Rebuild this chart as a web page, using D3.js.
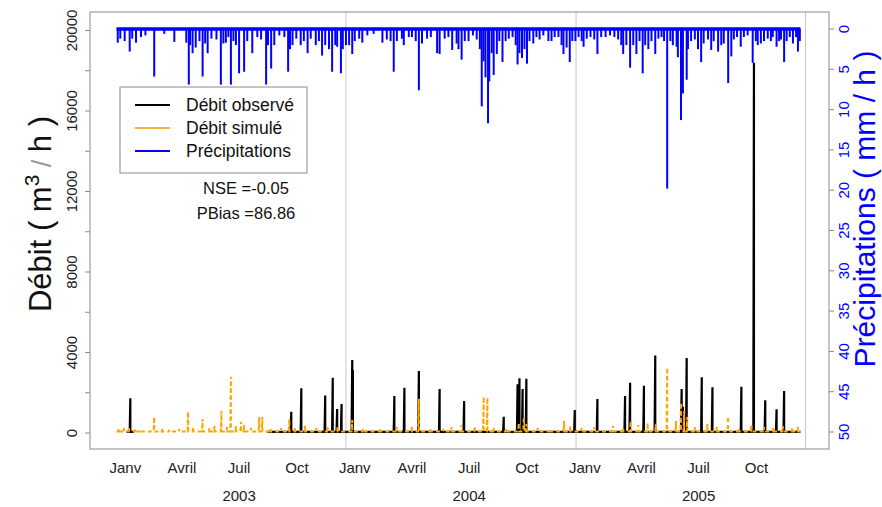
<!DOCTYPE html>
<html>
<head>
<meta charset="utf-8">
<script src="https://cdn.jsdelivr.net/npm/d3@7"></script>
<style>
  body { margin: 0; background: #fff; }
  svg text { font-family: "Liberation Sans", Arial, Helvetica, sans-serif; }
</style>
</head>
<body>
<svg id="chart" width="882" height="507"></svg>
<script>
// days counted from 1 Jan 2003
const startDate = new Date(2003, 0, 1);
const endDate = new Date(2006, 0, 1);

// precipitation events [day, mm/h]
const precip = [
  [2,1.7],[6,1.2],[13,1.5],[21,2.8],[25,1.2],[31,1.7],[39,1.0],[46,0.8],[60,5.9],[76,0.6],
  [92,1.6],[111,1.7],[115,6.9],[117,2.0],[121,3.0],[126,2.3],[132,1.5],[137,5.9],[141,1.8],[145,3.0],
  [151,1.2],[159,1.3],[166,6.9],[170,1.8],[174,1.7],[178,1.0],[182,6.9],[186,1.5],[190,2.0],[195,5.5],
  [203,5.3],[208,1.5],[216,3.0],[224,1.0],[230,1.3],[238,6.9],[241,2.0],[246,4.9],[251,2.0],[259,0.8],
  [267,1.0],[273,5.3],[276,2.5],[280,2.0],[286,1.2],[293,2.0],[298,1.5],[304,3.0],[309,1.2],[317,2.0],
  [322,1.5],[327,3.3],[332,2.0],[338,2.5],[343,5.3],[348,2.0],[351,2.2],[357,5.5],[360,2.5],
  [365,2.0],[370,2.0],[375,3.1],[379,1.5],[386,1.2],[391,1.7],[399,0.8],[409,0.6],[423,1.7],[430,1.3],
  [436,1.5],[441,5.3],[446,1.5],[454,1.2],[457,2.0],[465,1.0],[470,1.0],[476,1.5],[481,7.6],[486,1.8],
  [494,1.2],[500,1.0],[510,3.0],[514,3.1],[522,1.2],[528,1.0],[534,2.6],[541,1.8],[544,2.5],[549,3.8],
  [554,1.5],[560,1.5],[567,0.8],[573,1.3],[578,2.5],[581,9.6],[584,4.0],[587,6.0],[591,11.7],[593,6.5],
  [597,3.0],[600,5.7],[605,3.1],[609,1.5],[614,4.1],[619,1.5],[624,1.2],[630,1.0],[635,2.0],[638,4.4],
  [641,3.0],[645,3.6],[649,2.5],[653,4.3],[657,1.5],[663,1.8],[668,1.0],[673,1.3],[679,0.8],[687,1.5],
  [692,1.5],[697,1.0],[703,1.0],[708,2.0],[711,3.1],[716,2.3],[721,4.1],[725,1.5],
  [730,1.5],[735,1.0],[740,1.5],[743,2.2],[748,1.2],[754,1.0],[760,1.3],[765,3.1],[771,1.0],[778,1.0],
  [785,0.8],[792,1.0],[798,1.3],[803,2.0],[806,3.1],[811,2.0],[817,4.8],[822,2.0],[827,3.1],[832,1.5],
  [837,5.5],[841,2.0],[846,2.5],[851,1.5],[857,3.1],[862,1.2],[867,1.0],[871,1.5],[876,19.8],[881,1.5],
  [885,2.0],[891,2.2],[893,3.5],[898,11.3],[901,8.0],[907,6.3],[909,2.5],[914,1.5],[920,1.3],[925,2.5],
  [930,4.1],[934,1.8],[941,1.3],[946,2.6],[950,1.5],[957,2.8],[962,2.0],[966,1.8],[973,6.7],[978,3.4],
  [982,1.3],[987,1.0],[993,2.2],[998,1.0],[1004,0.8],[1012,4.2],[1017,1.5],[1020,2.0],[1025,1.8],[1030,1.5],
  [1036,1.2],[1041,1.5],[1044,1.0],[1050,2.2],[1054,1.5],[1057,1.3],[1062,4.1],[1066,1.5],[1071,1.0],
  [1076,1.8],[1081,1.0],[1084,2.8],[1087,1.5]
];

// observed discharge peaks [day, m3/h]
const observed = [
  [22,1725],[278,1060],[294,2220],[332,1860],[344,2750],[351,1190],[358,1440],[375,3630],[376,3130],
  [442,1840],[458,2250],[481,3080],[514,2190],[553,1590],[616,810],[638,2420],[641,2720],[646,2190],
  [652,2700],[729,1140],[765,1690],[809,1840],[817,2500],[839,2350],[857,3850],[899,2190],[901,1300],
  [907,3730],[931,2770],[948,2270],[994,2300],[1014,18400],[1032,1625],[1050,1180],[1062,2090]
];
// periods with observed record [first day, last day]
const observedPeriods = [[16, 28], [240, 1088]];
const observedBase = 60;

// simulated discharge peaks [day, m3/h]
const simulated = [
  [4,200],[12,250],[20,300],[30,180],[40,150],[60,800],[72,120],[84,150],[100,200],[114,1060],
  [122,300],[137,700],[148,250],[156,350],[167,1110],[176,300],[182,2800],[190,350],[198,560],[203,400],
  [214,250],[227,800],[232,800],[245,200],[262,250],[275,700],[284,300],[300,350],[318,250],[336,300],
  [352,350],[375,650],[392,200],[420,250],[446,300],[470,350],[481,1700],[500,250],[520,200],[533,300],
  [549,400],[570,350],[584,1800],[590,1760],[600,250],[620,200],[640,500],[648,800],[652,450],[670,250],
  [690,200],[712,600],[722,350],[740,250],[760,300],[790,350],[806,250],[818,600],[830,400],[845,500],
  [858,450],[876,3250],[890,600],[898,1500],[903,1100],[908,800],[920,300],[940,450],[955,300],[973,810],
  [990,250],[1010,400],[1030,300],[1045,250],[1060,350],[1075,250],[1084,300]
];
const simulatedBase = 80;

const monthLabels = ["Janv", "Avril", "Juil", "Oct"];
const years = [2003, 2004, 2005];
const leftTicks = d3.range(0, 20001, 2000);
const leftLabels = d3.range(0, 20001, 4000);
const rightTicks = d3.range(0, 51, 5);

const svg = d3.select("#chart");
const box = { left: 90, right: 829, top: 12, bottom: 449 };

const dayDate = d => d3.timeDay.offset(startDate, d);
const x = d3.scaleTime().domain([startDate, endDate]).range([116.5, 805.5]);
const y = d3.scaleLinear().domain([0, 20000]).range([433, 30.5]);
const yp = d3.scaleLinear().domain([0, 50]).range([29, 432]);

// year separators
svg.append("g").selectAll("line")
  .data([2004, 2005, 2006])
  .enter().append("line")
    .attr("x1", d => x(new Date(d, 0, 1))).attr("x2", d => x(new Date(d, 0, 1)))
    .attr("y1", box.top).attr("y2", box.bottom)
    .attr("stroke", "#c8c8c8").attr("stroke-width", 1);

// spikes built from peaks over a small baseline
function spikeSeries(peaks, base, from, to) {
  const pts = [[from, base]];
  peaks.filter(p => p[0] >= from && p[0] <= to).forEach(p => {
    pts.push([p[0] - 0.6, base], [p[0], p[1]], [p[0] + 0.6, base]);
  });
  pts.push([to, base]);
  return pts;
}
const line = d3.line().x(d => x(dayDate(d[0]))).y(d => y(d[1]));

observedPeriods.forEach(per => {
  svg.append("path")
    .attr("d", line(spikeSeries(observed, observedBase, per[0], per[1])))
    .attr("fill", "none").attr("stroke", "#000").attr("stroke-width", 2.2);
});

svg.append("path")
  .attr("d", line(spikeSeries(simulated, simulatedBase, 0, 1088)))
  .attr("fill", "none").attr("stroke", "orange").attr("stroke-width", 2)
  .attr("stroke-dasharray", "4,3");

// precipitation bars from top
svg.append("g").selectAll("line")
  .data(precip)
  .enter().append("line")
    .attr("x1", d => x(dayDate(d[0]))).attr("x2", d => x(dayDate(d[0])))
    .attr("y1", yp(0)).attr("y2", d => yp(d[1]))
    .attr("stroke", "#0000ff").attr("stroke-width", 2);
svg.append("line")
  .attr("x1", x(dayDate(0))).attr("x2", x(dayDate(1088)))
  .attr("y1", yp(0)).attr("y2", yp(0))
  .attr("stroke", "#0000ff").attr("stroke-width", 3.5);

// frame
svg.append("rect")
  .attr("x", box.left).attr("y", box.top)
  .attr("width", box.right - box.left).attr("height", box.bottom - box.top)
  .attr("fill", "none").attr("stroke", "#8a8a8a").attr("stroke-width", 1);

// left axis
const gl = svg.append("g");
gl.selectAll("line").data(leftTicks).enter().append("line")
  .attr("x1", box.left - 5).attr("x2", box.left)
  .attr("y1", d => y(d)).attr("y2", d => y(d))
  .attr("stroke", "#8a8a8a");
gl.selectAll("text").data(leftLabels).enter().append("text")
  .attr("transform", d => `translate(77,${y(d)}) rotate(-90)`)
  .attr("text-anchor", "middle")
  .attr("font-size", 15).attr("fill", "#222")
  .text(d => d);

const yt = svg.append("text")
  .attr("transform", "translate(51,214) rotate(-90)")
  .attr("text-anchor", "middle").attr("font-size", 31).attr("fill", "#111");
yt.append("tspan").text("Débit ( m");
yt.append("tspan").attr("font-size", 21).attr("dy", -12).text("3");
yt.append("tspan").attr("dy", 12).attr("fill", "#999").attr("font-size", 27).text(" / ");
yt.append("tspan").text("h )");

// right axis (precipitation, reversed)
const gr = svg.append("g");
gr.selectAll("line").data(rightTicks).enter().append("line")
  .attr("x1", box.right).attr("x2", box.right + 5)
  .attr("y1", d => yp(d)).attr("y2", d => yp(d))
  .attr("stroke", "#8a8a8a");
gr.selectAll("text").data(rightTicks).enter().append("text")
  .attr("transform", d => `translate(849,${yp(d)}) rotate(-90)`)
  .attr("text-anchor", "middle")
  .attr("font-size", 15).attr("fill", "#0000ff")
  .text(d => d);

svg.append("text")
  .attr("transform", "translate(875,209) rotate(-90)")
  .attr("text-anchor", "middle").attr("font-size", 30).attr("fill", "#0000ff")
  .text("Précipitations ( mm / h )");

// x labels
const monthTicks = [];
years.forEach(yr => [0, 3, 6, 9].forEach((m, i) =>
  monthTicks.push({ date: new Date(yr, m, 15), label: monthLabels[i] })));
svg.append("g").selectAll("text").data(monthTicks).enter().append("text")
  .attr("x", d => x(d.date)).attr("y", 473)
  .attr("text-anchor", "middle").attr("font-size", 15).attr("fill", "#222")
  .text(d => d.label);
svg.append("g").selectAll("text").data(years).enter().append("text")
  .attr("x", d => x(new Date(d, 6, 15))).attr("y", 501)
  .attr("text-anchor", "middle").attr("font-size", 15).attr("fill", "#222")
  .text(d => d);

// legend
const legendItems = [
  { label: "Débit observé", color: "#000" },
  { label: "Débit simulé", color: "#f5b041" },
  { label: "Précipitations", color: "#0000ff" }
];
svg.append("rect")
  .attr("x", 120).attr("y", 87).attr("width", 187).attr("height", 86)
  .attr("fill", "#fff").attr("stroke", "#8a8a8a");
const lg = svg.append("g").selectAll("g").data(legendItems).enter().append("g")
  .attr("transform", (d, i) => `translate(0,${105 + i * 23})`);
lg.append("line").attr("x1", 135).attr("x2", 170)
  .attr("stroke", d => d.color).attr("stroke-width", 2);
lg.append("text").attr("x", 186).attr("y", 6)
  .attr("font-size", 17.5).attr("fill", "#111").text(d => d.label);

svg.append("text").attr("x", 246).attr("y", 194)
  .attr("text-anchor", "middle").attr("font-size", 16.5).attr("fill", "#111")
  .text("NSE =-0.05");
svg.append("text").attr("x", 246).attr("y", 219)
  .attr("text-anchor", "middle").attr("font-size", 16.5).attr("fill", "#111")
  .text("PBias =86.86");
</script>
</body>
</html>
